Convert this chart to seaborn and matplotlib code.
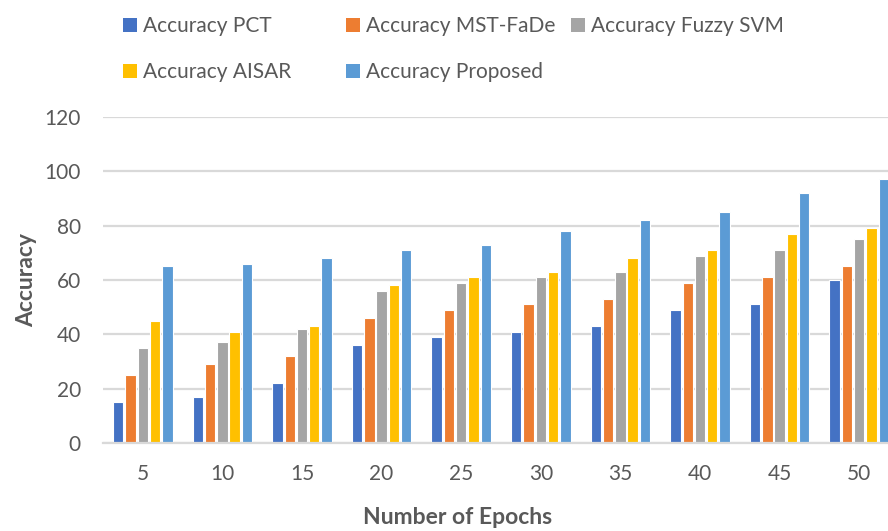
import matplotlib
matplotlib.use("Agg")
import matplotlib.pyplot as plt
import seaborn as sns
import pandas as pd
from matplotlib.patches import Patch

epochs = ["5", "10", "15", "20", "25", "30", "35", "40", "45", "50"]
acc_pct = [15, 17, 22, 36, 39, 41, 43, 49, 51, 60]
acc_mst_fade = [25, 29, 32, 46, 49, 51, 53, 59, 61, 65]
acc_fuzzy_svm = [35, 37, 42, 56, 59, 61, 63, 69, 71, 75]
acc_aisar = [45, 41, 43, 58, 61, 63, 68, 71, 77, 79]
acc_proposed = [65, 66, 68, 71, 73, 78, 82, 85, 92, 97]

series_names = ["Accuracy PCT", "Accuracy MST-FaDe", "Accuracy Fuzzy SVM",
                "Accuracy AISAR", "Accuracy Proposed"]
series_values = [acc_pct, acc_mst_fade, acc_fuzzy_svm, acc_aisar, acc_proposed]
colors = ["#4472C4", "#ED7D31", "#A5A5A5", "#FFC000", "#5B9BD5"]

rows = []
for name, vals in zip(series_names, series_values):
    for ep, v in zip(epochs, vals):
        rows.append({"Epochs": ep, "Series": name, "Accuracy": v})
df = pd.DataFrame(rows)

sns.set_theme(style="white")
plt.rcParams["font.family"] = ["Lato", "DejaVu Sans"]

text_color = "#595959"
grid_color = "#D9D9D9"

fig = plt.figure(figsize=(8.88, 5.31), dpi=100)
ax = fig.add_axes([103 / 888, 88 / 531, 796 / 888, 326 / 531])

sns.barplot(data=df, x="Epochs", y="Accuracy", hue="Series", order=epochs,
            hue_order=series_names, palette=colors, width=0.77, gap=0.15,
            edgecolor="white", linewidth=0.8, saturation=1, ax=ax, legend=False)

ax.set_ylim(0, 120)
ax.set_xlim(-0.5, 9.5)
ax.set_yticks(range(0, 121, 20))
ax.yaxis.grid(True, color=grid_color, linewidth=1.6)
ax.set_axisbelow(True)
for side in ["top", "right", "left"]:
    ax.spines[side].set_visible(False)
ax.spines["bottom"].set_color(grid_color)
ax.spines["bottom"].set_linewidth(1.6)
ax.tick_params(axis="both", length=0, labelsize=15, colors=text_color)
ax.tick_params(axis="y", pad=16)
ax.tick_params(axis="x", pad=15)

ax.set_xlabel("Number of Epochs", fontsize=16.5, fontweight="bold", color=text_color)
ax.set_ylabel("Accuracy", fontsize=16.5, fontweight="bold", color=text_color)
ax.xaxis.set_label_coords(0.445, -0.195)
ax.yaxis.set_label_coords(-0.083, 0.5)

# legend: one column of entries per block so the columns sit where Excel put them
columns = [[0, 3], [1, 4], [2]]
col_x = [123, 346, 571]
for idx, x in zip(columns, col_x):
    handles = [Patch(facecolor=colors[i], edgecolor="none") for i in idx]
    labels = [series_names[i] for i in idx]
    fig.legend(handles, labels, loc="upper left", bbox_to_anchor=(x / 888, 1 - 16 / 531),
               ncol=1, frameon=False, fontsize=15, handlelength=0.66, handleheight=0.66,
               handletextpad=0.3, labelspacing=1.25, borderpad=0, borderaxespad=0,
               labelcolor=text_color)

fig.savefig("out.png", dpi=100)
